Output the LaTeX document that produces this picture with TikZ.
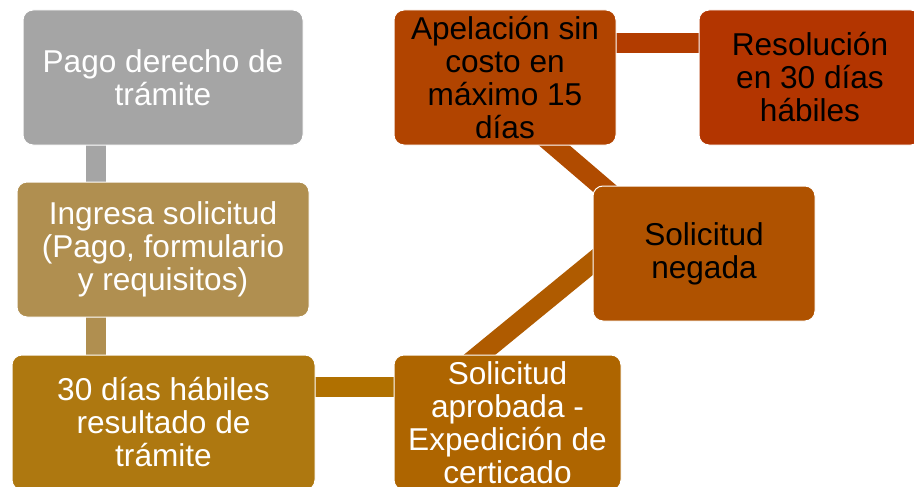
\documentclass[tikz,border=0pt]{standalone}
\usepackage{fontspec}
\setmainfont{Liberation Sans}
\usetikzlibrary{calc,backgrounds}
\definecolor{gris}{HTML}{A5A5A5}
\definecolor{arena}{HTML}{B08F50}
\definecolor{ocre}{HTML}{AE7810}
\definecolor{cobre}{HTML}{AE6500}
\definecolor{oxido}{HTML}{AF5200}
\definecolor{ladrillo}{HTML}{B14400}
\definecolor{teja}{HTML}{B33500}
\definecolor{enlaceA}{HTML}{B07000}
\definecolor{enlaceB}{HTML}{AF5B00}
\definecolor{enlaceC}{HTML}{B04B00}
\definecolor{enlaceD}{HTML}{B23C00}

\begin{document}
\begin{tikzpicture}[x=1pt,y=-1pt,
     caja/.style={rounded corners=10pt, draw=white, line width=1pt, minimum height=135pt,
                  align=center, inner sep=0pt, font=\fontsize{31.6}{33}\selectfont},
     enlace/.style={line width=20pt}]
               \useasboundingbox (0,0) rectangle (914,487);
               % columna izquierda
               \node[caja, fill=gris, text=white, minimum width=280pt] (pago) at (163,77.5) {Pago derecho de\\trámite};
               \node[caja, fill=arena, text=white, minimum width=292pt] (ingresa) at (163,249.5) {Ingresa solicitud\\(Pago, formulario\\y requisitos)};
               \node[caja, fill=ocre, text=white, minimum width=303pt] (dias) at (163.5,422.5) {30 días hábiles\\resultado de\\trámite};
               % resultado
               \node[caja, fill=cobre, text=white, minimum width=227pt] (aprobada) at (507.5,422.5) {Solicitud\\aprobada -\\Expedición de\\certicado};
               \node[caja, fill=oxido, text=black, minimum width=222pt] (negada) at (704,253.5) {Solicitud\\negada};
               \node[caja, fill=ladrillo, text=black, minimum width=222pt] (apelacion) at (505,77.5) {Apelación sin\\costo en\\máximo 15\\días};
               \node[caja, fill=teja, text=black, minimum width=222pt] (resolucion) at (810,77.5) {Resolución\\en 30 días\\hábiles};
               \begin{scope}[on background layer]
                    \fill[white] (0,0) rectangle (914,487);
                    \draw[enlace, gris] ($(pago.south)+(-67.5,-10)$) -- ($(ingresa.north)+(-67.5,10)$);
                    \draw[enlace, arena] ($(ingresa.south)+(-67.5,-10)$) -- ($(dias.north)+(-68,10)$);
                    \draw[enlace, enlaceA] ($(dias.east)+(-10,-35.5)$) -- ($(aprobada.west)+(10,-35.5)$);
                    \draw[enlace, enlaceB] ($(aprobada)+(-46.5,-52.5)$) -- ($(negada)+(-94,-5.5)$);
                    \draw[enlace, enlaceC] ($(apelacion)+(35,55.7)$) -- ($(negada)+(-86,-53.5)$);
                    \draw[enlace, enlaceD] ($(apelacion.east)+(-10,-34.5)$) -- ($(resolucion.west)+(10,-34.5)$);
               \end{scope}
          \end{tikzpicture}
\end{document}
